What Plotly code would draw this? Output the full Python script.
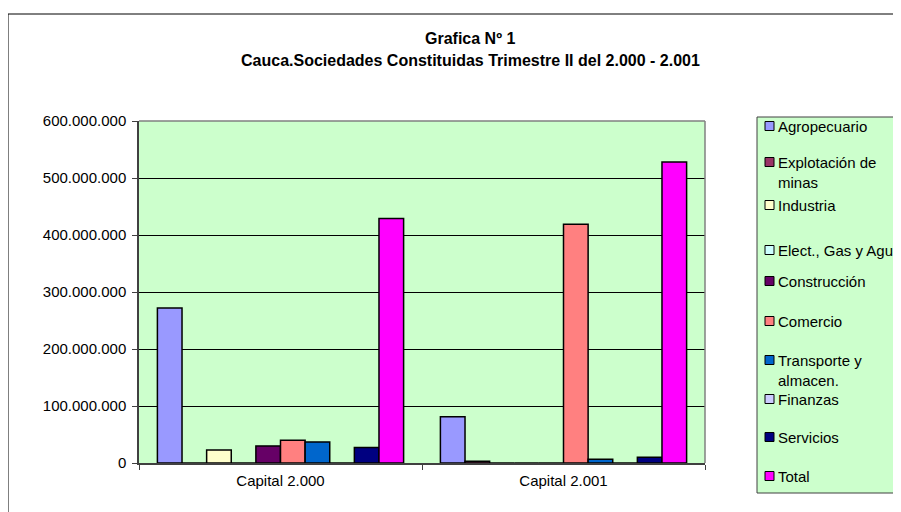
import plotly.graph_objects as go

categories = ["Capital 2.000", "Capital 2.001"]
sectors = [
    "Agropecuario",
    "Explotación de<br>minas",
    "Industria",
    "Elect., Gas y Agua",
    "Construcción",
    "Comercio",
    "Transporte y<br>almacen.",
    "Finanzas",
    "Servicios",
    "Total",
]
capital_2000 = [272e6, 0, 23e6, 0, 30e6, 40e6, 37e6, 0, 27e6, 429e6]
capital_2001 = [81e6, 3e6, 0, 0, 0, 419e6, 6.5e6, 0, 10e6, 528e6]
colors = [
    "#9999FF", "#993366", "#FFFFCC", "#CCFFFF", "#660066",
    "#FF8080", "#0066CC", "#CCCCFF", "#000080", "#FF00FF",
]

# the page body adds an 8px margin, so the figure is drawn from (8, 8)
OFF = 8
W, H = 901 - OFF, 512 - OFF
# plot area in page pixels
L, R, T, B = 139, 705, 121, 463


def px_x(px):
    return (px - L) / (R - L)


def px_y(py):
    return (B - py) / (B - T)


fig = go.Figure()
for i, name in enumerate(sectors):
    fig.add_trace(go.Bar(
        x=categories,
        y=[capital_2000[i], capital_2001[i]],
        name=name,
        marker=dict(color=colors[i], line=dict(color="black", width=1.5)),
    ))

font = dict(family="Liberation Sans, Arial, sans-serif", size=15, color="black")
title_font = dict(family="Liberation Sans, Arial, sans-serif", size=16, color="black")

shapes = [
    # outer chart frame (runs off the page on the right and bottom)
    dict(type="rect", xref="paper", yref="paper",
         x0=px_x(8), x1=px_x(930), y0=px_y(14), y1=px_y(540),
         line=dict(color="black", width=1), fillcolor="rgba(0,0,0,0)"),
    # top and right plot-area border
    dict(type="line", xref="paper", yref="paper", x0=0, x1=1, y0=1, y1=1,
         line=dict(color="#808080", width=1.5)),
    dict(type="line", xref="paper", yref="paper", x0=1, x1=1, y0=0, y1=1,
         line=dict(color="#808080", width=1.5)),
    # legend box
    dict(type="rect", xref="paper", yref="paper",
         x0=px_x(757), x1=px_x(930), y0=px_y(493), y1=px_y(117),
         line=dict(color="#404040", width=1), fillcolor="#CCFFCC"),
]
annotations = [
    dict(text="<b>Grafica Nº 1</b>", xref="paper", yref="paper",
         x=px_x(470), y=px_y(38), xanchor="center", yanchor="middle",
         showarrow=False, font=title_font),
    dict(text="<b>Cauca.Sociedades Constituidas Trimestre II del 2.000 - 2.001</b>",
         xref="paper", yref="paper", x=px_x(470), y=px_y(60),
         xanchor="center", yanchor="middle", showarrow=False, font=title_font),
]

legend_y = [126, 162, 205, 250, 281, 321, 360, 399, 437, 476]
for i, name in enumerate(sectors):
    cy = legend_y[i]
    shapes.append(dict(type="rect", xref="paper", yref="paper",
                       x0=px_x(765), x1=px_x(774), y0=px_y(cy + 4.5), y1=px_y(cy - 4.5),
                       line=dict(color="black", width=1), fillcolor=colors[i]))
    annotations.append(dict(text=name, xref="paper", yref="paper",
                            x=px_x(776), y=px_y(cy - 10.5), xanchor="left", yanchor="top",
                            align="left", showarrow=False, font=font))

fig.update_layout(
    width=W,
    height=H,
    margin=dict(l=L - OFF, r=901 - R, t=T - OFF, b=512 - B),
    paper_bgcolor="white",
    plot_bgcolor="#CCFFCC",
    barmode="group",
    bargap=0.13,
    bargroupgap=0,
    showlegend=False,
    separators=",.",
    font=font,
    shapes=shapes,
    annotations=annotations,
)
fig.update_xaxes(
    showgrid=False,
    showline=True, linecolor="#404040", linewidth=1.5,
    ticks="outside", ticklen=5, tickcolor="#404040", tickson="boundaries",
    ticklabelstandoff=3,
    tickfont=font,
)
fig.update_yaxes(
    range=[0, 600e6],
    dtick=100e6,
    tickformat=",.0f",
    showgrid=True, gridcolor="black", gridwidth=1,
    zeroline=False,
    showline=True, linecolor="#404040", linewidth=1.5,
    ticks="outside", ticklen=5, tickcolor="#404040",
    ticklabelstandoff=3,
    tickfont=font,
)

fig.write_html("out.html")
